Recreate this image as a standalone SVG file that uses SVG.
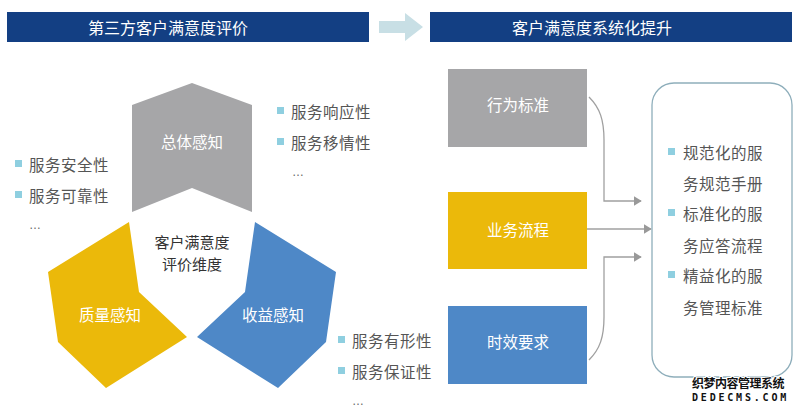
<svg xmlns="http://www.w3.org/2000/svg" width="800" height="410" viewBox="0 0 800 410">
<defs>
<style>
.hdr{fill:#133f83}
.hdrt{font-family:"Noto Sans CJK SC","Noto Sans",sans-serif;font-size:16px;fill:#ffffff;text-anchor:middle;dominant-baseline:central}
.lbl{font-family:"Noto Sans CJK SC","Noto Sans",sans-serif;font-size:15.5px;fill:#ffffff;text-anchor:middle;dominant-baseline:central}
.ctr{font-family:"Noto Sans CJK SC","Noto Sans",sans-serif;font-size:15px;fill:#333333;text-anchor:middle;dominant-baseline:central}
.bt{font-family:"Noto Sans CJK SC","Noto Sans",sans-serif;font-size:15.5px;fill:#555555;dominant-baseline:central;letter-spacing:0.5px}
.dots{font-family:"Liberation Sans",sans-serif;font-size:12px;fill:#666666;dominant-baseline:central}
.sq{fill:#8fcfe0}
.gray{fill:#a6a6a8}
.yel{fill:#ebb90a}
.blu{fill:#4e88c7}
.conn{fill:none;stroke:#a0a0a0;stroke-width:1.3}
.wm1{font-family:"Noto Sans CJK SC",sans-serif;font-size:12px;font-weight:bold;fill:#111;stroke:#fff;stroke-width:2;paint-order:stroke;letter-spacing:-0.5px}
.wm2{font-family:"DejaVu Sans Mono",monospace;font-size:10px;font-weight:bold;fill:#111;stroke:#fff;stroke-width:2;paint-order:stroke;letter-spacing:2.8px}
</style>
<marker id="ah" viewBox="0 0 10 12" refX="9" refY="6" markerWidth="8" markerHeight="11" markerUnits="userSpaceOnUse" orient="auto">
<path d="M0,0 L10,6 L0,12 Z" fill="#999999"/>
</marker>
</defs>
<rect width="800" height="410" fill="#ffffff"/>

<g id="header-left">
<rect class="hdr" x="7" y="12" width="362" height="30"/>
<text class="hdrt" x="168" y="27">第三方客户满意度评价</text>
</g>
<g id="header-arrow">
<path d="M379,21 H405 V13 L423,27 L405,41 V33 H379 Z" fill="#c8dfe5"/>
</g>
<g id="header-right">
<rect class="hdr" x="430" y="12" width="362" height="30"/>
<text class="hdrt" x="592" y="27">客户满意度系统化提升</text>
</g>

<g id="node-overall">
<polygon class="gray" points="192,83 252,105 252,212 192,188 132,212 132,105"/>
<text class="lbl" x="192" y="141">总体感知</text>
</g>
<g id="node-quality">
<polygon class="yel" points="129,222 139,292 187,337 106,388 58,342 48,272"/>
<text class="lbl" x="110" y="314">质量感知</text>
</g>
<g id="node-benefit">
<polygon class="blu" points="255,222 245,292 197,337 278,388 326,342 336,272"/>
<text class="lbl" x="273" y="314">收益感知</text>
</g>
<g id="node-center">
<text class="ctr" x="192" y="241">客户满意度</text>
<text class="ctr" x="192" y="263">评价维度</text>
</g>

<g id="list-left">
<rect class="sq" x="15" y="160" width="7" height="7"/>
<text class="bt" x="29" y="164">服务安全性</text>
<rect class="sq" x="15" y="191" width="7" height="7"/>
<text class="bt" x="29" y="195">服务可靠性</text>
<text class="dots" x="29" y="225">…</text>
</g>
<g id="list-top">
<rect class="sq" x="277" y="107" width="7" height="7"/>
<text class="bt" x="291" y="111">服务响应性</text>
<rect class="sq" x="277" y="138" width="7" height="7"/>
<text class="bt" x="291" y="142">服务移情性</text>
<text class="dots" x="292" y="172">…</text>
</g>
<g id="list-bottom">
<rect class="sq" x="338" y="336" width="7" height="7"/>
<text class="bt" x="352" y="340">服务有形性</text>
<rect class="sq" x="338" y="367" width="7" height="7"/>
<text class="bt" x="352" y="371">服务保证性</text>
<text class="dots" x="352" y="401">…</text>
</g>

<g id="node-behavior">
<rect class="gray" x="448" y="69" width="139" height="78"/>
<text class="lbl" x="518" y="104">行为标准</text>
</g>
<g id="node-process">
<rect class="yel" x="448" y="192" width="139" height="77"/>
<text class="lbl" x="518" y="229">业务流程</text>
</g>
<g id="node-timeliness">
<rect class="blu" x="448" y="306" width="139" height="78"/>
<text class="lbl" x="518" y="341">时效要求</text>
</g>

<g id="connectors">
<path class="conn" d="M589,97 C600,108 604,120 604,140 V201 H641" marker-end="url(#ah)"/>
<path class="conn" d="M587,229 H651" marker-end="url(#ah)"/>
<path class="conn" d="M589,360 C600,349 604,337 604,317 V257 H641" marker-end="url(#ah)"/>
</g>

<g id="node-result">
<rect x="652" y="83" width="140" height="294" rx="22" ry="22" fill="#ffffff" stroke="#8eaebb" stroke-width="1.3"/>
<rect class="sq" x="668" y="148" width="7" height="7"/>
<text class="bt" x="683" y="152">规范化的服</text>
<text class="bt" x="683" y="183">务规范手册</text>
<rect class="sq" x="668" y="209" width="7" height="7"/>
<text class="bt" x="683" y="213">标准化的服</text>
<text class="bt" x="683" y="245">务应答流程</text>
<rect class="sq" x="668" y="271" width="7" height="7"/>
<text class="bt" x="683" y="275">精益化的服</text>
<text class="bt" x="683" y="307">务管理标准</text>
</g>

<g id="watermark">
<text class="wm1" x="692" y="388">织梦内容管理系统</text>
<text class="wm2" x="692" y="401">DEDECMS.COM</text>
</g>
</svg>
